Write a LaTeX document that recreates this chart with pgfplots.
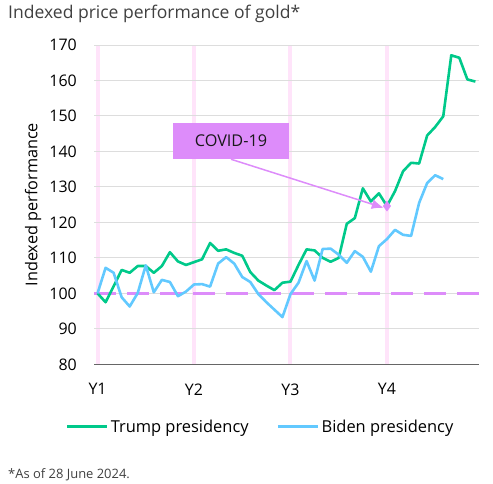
\documentclass[border=0pt]{standalone}
\usepackage{pgfplots}
\pgfplotsset{compat=1.18}
\usepackage{fontspec}
\setmainfont{Open Sans}
\usetikzlibrary{arrows.meta}
\definecolor{trump}{HTML}{00C98A}
\definecolor{biden}{HTML}{62C9FF}
\definecolor{covid}{HTML}{DD8CFA}
\definecolor{band}{HTML}{FFE4FA}
\definecolor{titlegray}{HTML}{404040}
\definecolor{gridgray}{HTML}{DDDDDD}
\definecolor{axisgray}{HTML}{666666}
\begin{document}
\begin{tikzpicture}[x=1bp,y=1bp]
\useasboundingbox (0,0) rectangle (493,-484);
\node[anchor=base west, font=\fontsize{17.6}{20}\selectfont, text=titlegray, inner sep=0pt] at (8,-19) {Indexed price performance of gold*};
\node[anchor=base west, font=\fontsize{13}{15}\selectfont, text=titlegray, inner sep=0pt] at (8,-478.3) {*As of 28 June 2024.};
\begin{axis}[
  at={(94bp,-364.3bp)}, anchor=south west,
  scale only axis, width=385bp, height=319.3bp,
  xmin=-0.44, xmax=47.45, ymin=80, ymax=170,
  ytick={80,90,...,170},
  xtick={0,12,24,36}, xticklabels={Y1,Y2,Y3,Y4},
  axis x line*=bottom, axis y line*=left,
  y axis line style={draw=none},
  x axis line style={draw=axisgray, line width=1.2bp},
  major tick length=0pt,
  ymajorgrids, xmajorgrids,
  y grid style={draw=gridgray, line width=1bp},
  x grid style={draw=band, line width=4bp},
  /pgf/number format/assume math mode=true,
  tick label style={font=\fontsize{16}{19}\selectfont, text=black},
  yticklabel style={inner sep=0pt, anchor=east, xshift=-17bp},
  xticklabel style={inner sep=0pt, anchor=north, yshift=-19bp},
  ylabel={Indexed performance},
  every axis y label/.style={at={(axis description cs:-0.158,0.5)}, rotate=90, anchor=center, font=\fontsize{16.3}{19}\selectfont},
  legend style={at={(axis description cs:0.4325,-0.196)}, anchor=center, draw=none, fill=none, legend columns=2, font=\fontsize{16.5}{19}\selectfont, /tikz/every even column/.append style={column sep=26bp}},
  legend cell align=left,
  legend image code/.code={\draw[#1, line width=3bp] (0bp,0bp) -- (40bp,0bp);},
  clip=false,
]
\addplot[forget plot, draw=covid, line width=3bp, dash pattern=on 22bp off 11bp] coordinates {(-0.44,100) (47.45,100)};
\addplot[trump, line width=2.6bp, line join=round] coordinates {
(0,100) (1,97.5) (2,102) (3,106.6) (4,105.8) (5,107.7) (6,107.7) (7,105.8) (8,107.7) (9,111.6) (10,109) (11,108)
(12,108.8) (13,109.6) (14,114.2) (15,112) (16,112.4) (17,111.4) (18,110.6) (19,106) (20,103.6) (21,102.2) (22,100.9) (23,103)
(24,103.3) (25,108) (26,112.4) (27,112.1) (28,110) (29,108.9) (30,110) (31,119.6) (32,121.2) (33,129.6) (34,125.9) (35,128.2)
(36,124.6) (37,128.8) (38,134.4) (39,136.8) (40,136.6) (41,144.5) (42,146.9) (43,149.9) (44,167.1) (45,166.4) (46,160.3) (47,159.7)};
\addlegendentry{Trump presidency}
\addplot[biden, line width=2.6bp, line join=round] coordinates {
(0,100) (1,107.2) (2,105.8) (3,98.9) (4,96.3) (5,100.1) (6,107.9) (7,100.3) (8,103.8) (9,103.2) (10,99.2) (11,100.5)
(12,102.5) (13,102.6) (14,101.9) (15,108.4) (16,110.2) (17,108.4) (18,104.6) (19,103.2) (20,99.8) (21,97.5) (22,95.4) (23,93.3)
(24,99.8) (25,103) (26,109.1) (27,103.6) (28,112.5) (29,112.6) (30,110.9) (31,108.6) (32,111.9) (33,110.3) (34,106.1) (35,113.3)
(36,115.3) (37,117.9) (38,116.5) (39,116.2) (40,125.5) (41,131.1) (42,133.3) (43,132.2)};
\addlegendentry{Biden presidency}
\addplot[forget plot, draw=covid, line width=1.5bp, -{Latex[length=12bp,width=10bp]}] coordinates {(16.6,137.8) (35.6,124.1)};
\addplot[forget plot, only marks, mark=diamond*, mark size=5bp, color=covid] coordinates {(36,124.6)};
\node[fill=covid, minimum width=116bp, minimum height=36.6bp, inner sep=0pt, font=\fontsize{16.3}{19}\selectfont, text=black!90] at (axis cs:16.6,143) {COVID-19};
\end{axis}
\end{tikzpicture}
\end{document}
